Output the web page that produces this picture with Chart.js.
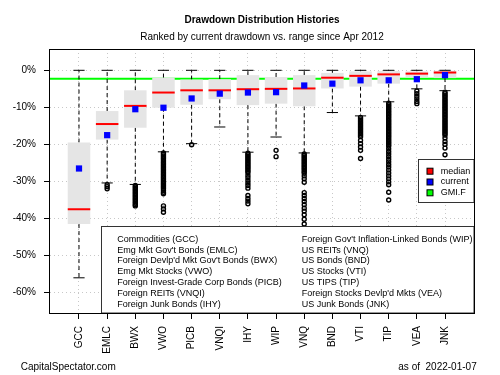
<!DOCTYPE html>
<html>
<head>
<meta charset="utf-8">
<script src="https://cdn.jsdelivr.net/npm/chart.js@4.4.1/dist/chart.umd.min.js"></script>
<style>
  html, body { margin: 0; padding: 0; background: #fff; }
  #wrap { position: relative; width: 500px; height: 375px; }
</style>
</head>
<body>
<div id="wrap"><canvas id="c" width="500" height="375"></canvas></div>
<script>
'use strict';

/* ---- data ---- */
const tickers = ['GCC', 'EMLC', 'BWX', 'VWO', 'PICB', 'VNQI', 'IHY', 'WIP', 'VNQ', 'BND', 'VTI', 'TIP', 'VEA', 'JNK'];
const fullNames = [
  'Commodities (GCC)',
  "Emg Mkt Gov't Bonds (EMLC)",
  "Foreign Devlp'd Mkt Gov't Bonds (BWX)",
  'Emg Mkt Stocks (VWO)',
  'Foreign Invest-Grade Corp Bonds (PICB)',
  'Foreign REITs (VNQI)',
  'Foreign Junk Bonds (IHY)',
  "Foreign Gov't Inflation-Linked Bonds (WIP)",
  'US REITs (VNQ)',
  'US Bonds (BND)',
  'US Stocks (VTI)',
  'US TIPS (TIP)',
  "Foreign Stocks Devlp'd Mkts (VEA)",
  'US Junk Bonds (JNK)'
];
const upperWhisker = [0, 0, 0, 0, 0, 0, 0, 0, 0, 0, 0, 0, 0, 0];
const boxTop       = [-19.5, -11.0, -5.4, -2.0, -2.5, -2.4, -1.3, -1.8, -1.3, -0.7, -0.3, -0.2, -0.3, 0];
const medians      = [-37.5, -14.5, -9.6, -6.0, -5.4, -5.4, -5.1, -5.0, -4.9, -2.0, -1.5, -1.1, -0.9, -0.6];
const boxBottom    = [-41.5, -18.7, -15.5, -10.1, -9.3, -7.8, -9.4, -9.0, -9.7, -4.9, -4.4, -3.6, -1.9, -2.1];
const lowerWhisker = [-56.0, -30.4, -30.8, -22.0, -19.8, -15.3, -22.1, -18.0, -22.3, -11.4, -12.3, -8.5, -5.0, -5.5];
const current      = [-26.5, -17.5, -10.5, -10.1, -7.6, -6.3, -6.0, -5.9, -4.1, -3.6, -2.7, -2.7, -2.4, -1.3];
const gmiF = -2.25;
const outliers = [
  [],
  [-30.9, -31.4, -32.0],
  [-31.1, -31.5, -31.9, -32.3, -32.7, -33.1, -33.5, -33.9, -34.3, -34.7, -35.1, -35.5, -35.9, -36.3, -36.6],
  [-22.3, -22.7, -23.1, -23.5, -23.9, -24.3, -24.7, -25.1, -25.5, -25.9, -26.3, -26.7, -27.1, -27.5, -27.9,
   -28.3, -28.7, -29.1, -29.5, -29.9, -30.3, -30.7, -31.1, -31.5, -31.9, -32.4, -32.9, -33.3, -36.6, -37.4, -38.3],
  [-20.1],
  [],
  [-22.4, -22.8, -23.2, -23.6, -24.0, -24.4, -24.8, -25.2, -25.6, -26.0, -26.4, -26.8, -27.2, -27.6,
   -28.3, -29.0, -29.7, -30.4, -31.1, -31.8, -33.8, -34.6, -35.3, -36.0],
  [-21.6, -23.3],
  [-22.6, -23.0, -23.4, -23.8, -24.2, -24.6, -25.0, -25.4, -25.8, -26.2, -26.6, -27.0, -27.4, -27.8,
   -28.5, -29.3, -30.2, -33.0, -33.8, -34.6, -35.4, -36.3, -37.2, -38.0, -39.0, -40.2, -41.5],
  [],
  [-12.7, -13.1, -13.5, -13.9, -14.3, -14.7, -15.1, -15.5, -15.9, -16.3, -16.7, -17.1, -17.5, -17.9,
   -18.9, -19.8, -20.7, -21.6, -23.8],
  [-8.9, -9.3, -9.7, -10.1, -10.5, -10.9, -11.3, -11.7, -12.1, -12.5, -12.9, -13.3, -13.7, -14.1, -14.5,
   -14.9, -15.3, -15.7, -16.1, -16.5, -16.9, -17.3, -17.7, -18.1, -18.5, -18.9, -19.3, -19.7, -20.1, -20.5,
   -21.2, -21.9, -22.6, -23.3, -24.0, -24.7, -25.4, -26.1, -26.9, -27.7, -28.5, -29.3, -30.1, -30.9, -32.9, -35.0],
  [-5.6, -6.3, -7.0, -7.7, -8.4, -9.0],
  [-5.9, -6.3, -6.7, -7.1, -7.5, -7.9, -8.3, -8.7, -9.1, -9.5, -9.9, -10.3, -10.7, -11.1, -11.5, -11.9,
   -12.3, -12.7, -13.1, -13.5, -13.9, -14.3, -14.7, -15.1, -15.5, -15.9, -16.3, -16.7, -17.1, -17.5,
   -18.3, -19.2, -20.0, -21.0, -22.8]
];
const yTicks = [0, -10, -20, -30, -40, -50, -60];
const keyLabels = ['median', 'current', 'GMI.F'];
const keyColors = ['#ff0000', '#0000ff', '#00ff00'];

const titleText = 'Drawdown Distribution Histories';
const subtitleText = 'Ranked by current drawdown vs. range since Apr 2012';
const siteText = 'CapitalSpectator.com';
const asOfText = 'as of  2022-01-07';

const X_MIN = -0.03, X_MAX = 15.03;
const FONT = '"Liberation Sans", Arial, sans-serif';

/* ---- points for the library ---- */
const pos = i => i + 1;
const whiskerPts = [];
const capPts = [];
const outlierPts = [];
tickers.forEach((t, i) => {
  whiskerPts.push({ x: pos(i), y: boxTop[i] }, { x: pos(i), y: upperWhisker[i] }, { x: pos(i), y: null });
  whiskerPts.push({ x: pos(i), y: boxBottom[i] }, { x: pos(i), y: lowerWhisker[i] }, { x: pos(i), y: null });
  capPts.push({ x: pos(i), y: upperWhisker[i] }, { x: pos(i), y: lowerWhisker[i] });
  outliers[i].forEach(v => outlierPts.push({ x: pos(i), y: v }));
});

/* ---- legends, frame, footer ---- */
const decorations = {
  id: 'decorations',
  afterDatasetsDraw(chart) {
    const { ctx, chartArea: a } = chart;
    ctx.save();
    ctx.lineWidth = 1;
    ctx.textBaseline = 'middle';
    ctx.textAlign = 'left';
    ctx.font = '9px ' + FONT;

    // names box
    const bx = 101.5, by = 226.5;
    ctx.fillStyle = '#fff';
    ctx.fillRect(bx, by, a.right - bx, a.bottom - by);
    ctx.strokeStyle = '#333';
    ctx.strokeRect(bx, by, a.right - bx, a.bottom - by);
    ctx.fillStyle = '#000';
    fullNames.forEach((name, i) => {
      const row = i % 7;
      ctx.fillText(name, i < 7 ? 117.3 : 301.7, 239.3 + row * 10.8);
    });

    // key box
    const kx = 418.5, ky = 159.5;
    ctx.fillStyle = '#fff';
    ctx.fillRect(kx, ky, a.right - kx, 202.5 - ky);
    ctx.strokeStyle = '#333';
    ctx.strokeRect(kx, ky, a.right - kx, 202.5 - ky);
    keyLabels.forEach((lab, i) => {
      const cy = 171.2 + i * 10.8;
      ctx.fillStyle = keyColors[i];
      ctx.fillRect(427, cy - 3, 6, 6);
      ctx.strokeStyle = '#000';
      ctx.strokeRect(427, cy - 3, 6, 6);
      ctx.fillStyle = '#000';
      ctx.fillText(lab, 440.7, cy);
    });

    // plot frame
    ctx.strokeStyle = '#000';
    ctx.strokeRect(a.left - 0.5, a.top + 0.5, a.width + 1, a.height);
    ctx.restore();
  },
  afterDraw(chart) {
    const { ctx } = chart;
    ctx.save();
    ctx.font = '10px ' + FONT;
    ctx.fillStyle = '#000';
    ctx.textBaseline = 'middle';
    ctx.textAlign = 'left';
    ctx.fillText(siteText, 20.7, 367);
    ctx.textAlign = 'right';
    ctx.fillText(asOfText, 476.7, 367);
    ctx.restore();
  }
};

const axisFont = { family: FONT, size: 10 };

new Chart(document.getElementById('c'), {
  type: 'scatter',
  data: {
    datasets: [
      { type: 'line', label: 'GMI.F', data: [{ x: X_MIN, y: gmiF }, { x: X_MAX, y: gmiF }],
        borderColor: '#00ff00', borderWidth: 2, pointRadius: 0, order: 10 },
      { type: 'line', label: 'whiskers', data: whiskerPts, spanGaps: false,
        borderColor: '#000', borderWidth: 1, borderDash: [4, 3], pointRadius: 0, order: 9 },
      { type: 'bar', label: 'box', data: tickers.map((t, i) => ({ x: pos(i), y: [boxBottom[i], boxTop[i]] })),
        backgroundColor: '#e5e5e5', borderWidth: 0, categoryPercentage: 0.8, barPercentage: 1, order: 8 },
      { type: 'scatter', label: 'caps', data: capPts, pointStyle: 'line', pointRadius: 5.6,
        borderColor: '#000', borderWidth: 1, order: 7 },
      { type: 'scatter', label: 'median', data: tickers.map((t, i) => ({ x: pos(i), y: medians[i] })),
        pointStyle: 'line', pointRadius: 11.25, borderColor: '#ff0000', borderWidth: 2, order: 6 },
      { type: 'scatter', label: 'outliers', data: outlierPts, pointStyle: 'circle', pointRadius: 2,
        backgroundColor: 'rgba(0,0,0,0)', borderColor: '#000', borderWidth: 1.4, order: 5 },
      { type: 'scatter', label: 'current', data: tickers.map((t, i) => ({ x: pos(i), y: current[i] })),
        pointStyle: 'rect', pointRadius: 4.4, backgroundColor: '#0000ff', borderWidth: 0, order: 4 }
    ]
  },
  options: {
    responsive: false,
    animation: false,
    events: [],
    layout: { padding: { left: 0, right: 26, top: 0, bottom: 0 } },
    plugins: {
      legend: { display: false },
      tooltip: { enabled: false },
      title: { display: true, text: titleText, fullSize: false, color: '#000',
               font: { family: FONT, size: 10, weight: 'bold' }, padding: { top: 14, bottom: 5.3 } },
      subtitle: { display: true, text: subtitleText, fullSize: false, color: '#000',
                  font: { family: FONT, size: 10, weight: 'normal' }, padding: { top: 0, bottom: 5.7 } }
    },
    scales: {
      x: {
        type: 'linear', min: X_MIN, max: X_MAX, offset: false,
        afterBuildTicks: s => { s.ticks = tickers.map((t, i) => ({ value: pos(i) })); },
        afterFit: s => { s.height = 62; },
        ticks: { autoSkip: false, minRotation: 90, maxRotation: 90, padding: 7, color: '#000', font: axisFont,
                 callback: v => tickers[v - 1] },
        grid: { color: '#c8c8c8', lineWidth: 1, tickColor: '#000', tickLength: 6, offset: false },
        border: { display: false, dash: [1, 3] }
      },
      y: {
        type: 'linear', min: -65.5, max: 5.75,
        afterBuildTicks: s => { s.ticks = yTicks.map(v => ({ value: v })); },
        afterFit: s => { s.width = 50; },
        ticks: { padding: 8, color: '#000', font: axisFont, callback: v => v + '%' },
        grid: { color: '#c8c8c8', lineWidth: 1, tickColor: '#000', tickLength: 6 },
        border: { display: false, dash: [1, 3] }
      }
    }
  },
  plugins: [decorations]
});
</script>
</body>
</html>
